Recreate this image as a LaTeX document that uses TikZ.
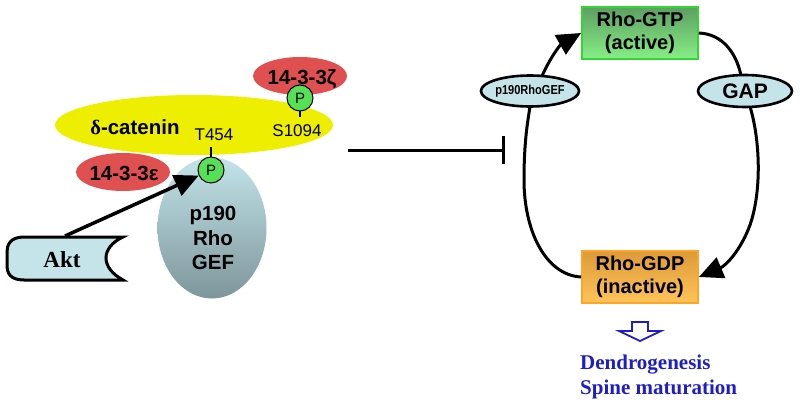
\documentclass[tikz,border=0pt]{standalone}
\usepackage{fontspec}
\setmainfont{Liberation Sans}
\newfontfamily\tms{Liberation Serif}
\newfontfamily\condsans{Liberation Sans}[FakeStretch=0.85]
\usetikzlibrary{shapes.geometric,arrows.meta}
\definecolor{catyellow}{HTML}{EEEE00}
\definecolor{redfill}{HTML}{E05050}
\definecolor{pgreen}{HTML}{55E055}
\definecolor{geftop}{HTML}{C2E4EA}
\definecolor{gefbot}{HTML}{7D969B}
\definecolor{lightblue}{HTML}{C4E4EA}
\definecolor{gtptop}{HTML}{5E9E62}
\definecolor{gtpbot}{HTML}{86EE86}
\definecolor{gtpborder}{HTML}{33D633}
\definecolor{gdptop}{HTML}{DC9A38}
\definecolor{gdpbot}{HTML}{FFC45A}
\definecolor{gdpborder}{HTML}{FFA424}
\definecolor{outblue}{HTML}{1E1EC8}
\tikzset{
  lbl/.style={font=\fontsize{20.5}{23}\selectfont\bfseries, inner sep=0, align=center},
  redell/.style={ellipse, fill=redfill, minimum width=94, minimum height=38, inner sep=0},
  pcirc/.style={circle, fill=pgreen, draw=black, line width=1, minimum size=26, inner sep=0, font=\fontsize{15}{15}\selectfont},
  rhobox/.style={rectangle, line width=1.8, minimum width=116, minimum height=52, inner sep=0, align=center, font=\fontsize{20}{23}\selectfont\bfseries},
  smallell/.style={ellipse, fill=lightblue, draw=black, line width=2.6, inner sep=0},
  loopline/.style={line width=3},
  bigtip/.style={-{Triangle[length=24,width=22]}}
}
\begin{document}
\begin{tikzpicture}[x=1pt,y=-1pt]
\useasboundingbox (0,0) rectangle (800,409);
% left complex
\node[redell] (zeta) at (300,76) {};
\node[lbl] (zetatxt) at (302,79) {14-3-3ζ};
\node[ellipse, fill=catyellow, minimum width=278, minimum height=60, inner sep=0] (cat) at (194,125) {};
\node[lbl] (cattxt) at (135,127) {{\tms\bfseries δ}-catenin};
\node[inner sep=0, font=\fontsize{17}{17}\selectfont] (t454) at (214,135) {T454};
\node[inner sep=0, font=\fontsize{17}{17}\selectfont] (s1094) at (297,131) {S1094};
\node[redell] (eps) at (123,172) {};
\node[lbl] (epstxt) at (124,173) {14-3-3ε};
\node[ellipse, top color=geftop, bottom color=gefbot, minimum width=109, minimum height=141, inner sep=0] (gef) at (212,228) {};
\node[lbl, font=\fontsize{20.5}{24.5}\selectfont\bfseries] (geftxt) at (213,238) {p190\\Rho\\GEF};
\node[pcirc] (ptop) at (300,98) {P};
\draw[line width=2] (ptop.south) -- ++(0,6);
\node[pcirc] (pbot) at (211,170) {P};
\draw[line width=2] (pbot.north) -- ++(0,-10);
% Akt
\draw[line width=3, fill=lightblue] (123,237) -- (24,237) .. controls (10,237) and (7,245) .. (7,252) -- (7,265) .. controls (7,273) and (10,280) .. (24,280) -- (123,280) .. controls (112,274) and (106,266) .. (106,258) .. controls (106,250) and (112,242) .. (123,237) -- cycle;
\node[inner sep=0, font=\fontsize{23}{23}\selectfont\tms\bfseries] (akt) at (62,260) {Akt};
\coordinate (akttop) at (65,236);
\draw[line width=3.5, bigtip] (akttop) -- (pbot);
% inhibition
\coordinate (inhA) at (348,150);
\coordinate (inhB) at (503,150);
\draw[line width=3] (inhA) -- (inhB);
\draw[line width=3] (503,136) -- (503,164);
% right cycle
\node[rhobox, draw=gtpborder, top color=gtptop, bottom color=gtpbot] (gtp) at (640,33) {Rho-GTP\\(active)};
\node[rhobox, draw=gdpborder, top color=gdptop, bottom color=gdpbot] (gdp) at (640,277) {Rho-GDP\\(inactive)};
\node[smallell, minimum width=84, minimum height=31, font=\fontsize{13}{13}\selectfont\condsans\bfseries] (gef2) at (530,91) {p190RhoGEF};
\node[smallell, minimum width=94, minimum height=32, font=\fontsize{21}{21}\selectfont\bfseries] (gap) at (745,91) {GAP};
\draw[loopline] (gdp.west) .. controls (545,275) and (524,230) .. (524,180) .. controls (524,140) and (528,120) .. (530,106.5);
\draw[loopline, bigtip] (542,76) .. controls (550,58) and (560,45) .. (gtp.west);
\draw[loopline] (gtp.east) .. controls (722,34) and (736,52) .. (741,75.5);
\draw[loopline, bigtip] (750,106.5) .. controls (760,140) and (762,190) .. (750,225) .. controls (740,252) and (725,266) .. (gdp.east);
% output arrow
\draw[draw=outblue, line width=1.8, fill=white] (632,322) -- (648,322) -- (648,331) -- (661,331) -- (640,341) -- (619,331) -- (632,331) -- cycle;
\node[anchor=west, inner sep=0, align=left, text=outblue, font=\fontsize{21}{25}\selectfont\tms\bfseries] (outtxt) at (580,377) {Dendrogenesis\\Spine maturation};
\end{tikzpicture}
\end{document}
